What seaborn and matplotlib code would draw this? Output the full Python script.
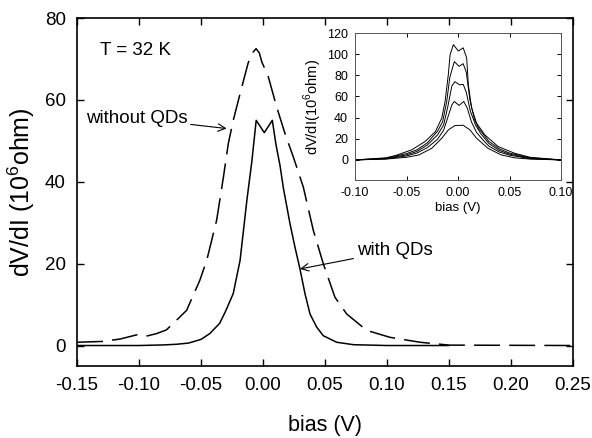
import numpy as np
import pandas as pd
import matplotlib
matplotlib.use("Agg")
import matplotlib.pyplot as plt
import seaborn as sns

# main panel: dV/dI vs bias at T = 32 K
bias_without = [-0.15, -0.129, -0.115, -0.102, -0.094, -0.086, -0.078, -0.070, -0.0616,
                -0.051, -0.0454, -0.0374, -0.032, -0.028, -0.024, -0.0185, -0.012, -0.0085,
                -0.0056, -0.003, -0.001, 0.0043, 0.011, 0.0177, 0.0245, 0.0325, 0.0406,
                0.0486, 0.058, 0.0675, 0.0836, 0.1024, 0.1266, 0.15, 0.25]
dvdi_without = [0.8, 1.0, 1.6, 2.6, 2.3, 2.9, 3.8, 6.1, 8.6,
                15.9, 20.8, 30.6, 41.0, 49.3, 55.0, 61.5, 69.0, 71.5,
                72.5, 71.5, 69.3, 65.6, 58.3, 51.8, 46.0, 38.7, 28.1,
                20.0, 11.8, 7.7, 3.7, 2.0, 0.8, 0.1, 0.0]

bias_with = [-0.15, -0.10, -0.08, -0.07, -0.06, -0.05, -0.043, -0.035, -0.03, -0.024,
             -0.0185, -0.013, -0.009, -0.0055, 0.001, 0.0075, 0.0105, 0.0137, 0.0164,
             0.0218, 0.0258, 0.0298, 0.0339, 0.0379, 0.0433, 0.0486, 0.0594, 0.073,
             0.10, 0.15]
dvdi_with = [0.0, 0.0, 0.15, 0.3, 0.6, 1.5, 2.9, 5.4, 8.5, 12.7,
             20.8, 35.5, 45.0, 55.0, 52.0, 55.0, 49.0, 44.0, 38.5,
             29.7, 24.0, 18.7, 12.6, 7.7, 4.5, 2.4, 0.8, 0.2,
             0.0, 0.0]

# inset: five curves
inset_a_x = [-0.10, -0.07, -0.061, -0.045, -0.032, -0.022, -0.0158, -0.0126, -0.0094,
             -0.0077, -0.0045, 0.0003, 0.005, 0.0084, 0.010, 0.0132, 0.018, 0.026, 0.039,
             0.055, 0.07, 0.10]
inset_a_y = [0.0, 2.0, 4.1, 9.5, 17.4, 26.8, 39.5, 55.0, 81.0,
             99.5, 109.0, 103.0, 106.0, 96.4, 71.0, 49.0, 34.8, 23.7, 12.6,
             6.3, 2.5, 0.0]

inset_b_x = [-0.10, -0.07, -0.05, -0.04, -0.03, -0.02, -0.015, -0.011, -0.008, -0.0036,
             0.001, 0.005, 0.008, 0.0115, 0.016, 0.02, 0.03, 0.04, 0.05, 0.07, 0.10]
inset_b_y = [0.0, 1.6, 6.0, 9.5, 16.0, 27.0, 36.0, 55.0, 78.0, 93.0,
             88.5, 91.0, 83.0, 57.0, 38.0, 30.0, 17.5, 10.5, 6.5, 2.0, 0.0]

inset_c_x = [-0.10, -0.07, -0.05, -0.04, -0.03, -0.02, -0.014, -0.01, -0.006, -0.003,
             0.0015, 0.005, 0.008, 0.012, 0.017, 0.022, 0.03, 0.04, 0.05, 0.07, 0.10]
inset_c_y = [0.0, 1.3, 4.8, 8.0, 14.0, 23.5, 33.0, 50.0, 70.0, 74.0,
             71.0, 71.5, 64.0, 46.0, 33.0, 25.0, 15.5, 9.0, 5.5, 1.6, 0.0]

inset_d_x = [-0.10, -0.07, -0.05, -0.04, -0.03, -0.02, -0.014, -0.01, -0.006, -0.0036,
             0.001, 0.0055, 0.009, 0.013, 0.018, 0.025, 0.03, 0.04, 0.05, 0.07, 0.10]
inset_d_y = [0.0, 1.0, 3.8, 6.5, 11.5, 19.5, 28.0, 40.0, 52.0, 55.3,
             51.5, 55.3, 49.0, 36.0, 26.0, 18.0, 13.0, 7.5, 4.5, 1.2, 0.0]

inset_e_x = [-0.10, -0.07, -0.05, -0.038, -0.0255, -0.0158, -0.0094, -0.003, 0.005,
             0.0116, 0.018, 0.029, 0.042, 0.055, 0.07, 0.10]
inset_e_y = [0.0, 0.8, 2.5, 4.7, 11.0, 20.5, 28.4, 32.5, 32.8,
             28.4, 20.5, 11.0, 4.7, 2.0, 0.8, 0.0]

main_xticks = [-0.15, -0.10, -0.05, 0.00, 0.05, 0.10, 0.15, 0.20, 0.25]
main_yticks = [0, 20, 40, 60, 80]
inset_xticks = [-0.10, -0.05, 0.00, 0.05, 0.10]
inset_yticks = [0, 20, 40, 60, 80, 100, 120]

sns.set_style("ticks")
plt.rcParams['font.family'] = ['Liberation Sans', 'DejaVu Sans']
plt.rcParams['mathtext.fontset'] = 'custom'
plt.rcParams['mathtext.rm'] = 'Liberation Sans'
plt.rcParams['text.color'] = 'black'
plt.rcParams['axes.labelcolor'] = 'black'

fig = plt.figure(figsize=(5.92, 4.38), dpi=100)
ax = fig.add_axes([0.1301, 0.1644, 0.8378, 0.7945])

df_without = pd.DataFrame({'bias': bias_without, 'dvdi': dvdi_without})
df_with = pd.DataFrame({'bias': bias_with, 'dvdi': dvdi_with})

sns.lineplot(data=df_without, x='bias', y='dvdi', ax=ax, color='black', lw=1.1, sort=False)
ax.lines[-1].set_dashes((17, 6))
sns.lineplot(data=df_with, x='bias', y='dvdi', ax=ax, color='black', lw=1.1, sort=False)

ax.set_xlim(-0.15, 0.25)
ax.set_ylim(-5, 80)
ax.set_xticks(main_xticks)
ax.set_xticklabels([f'{t:.2f}' for t in main_xticks])
ax.set_yticks(main_yticks)
ax.tick_params(direction='in', top=True, right=True, length=5, width=1,
               labelsize=13.5, pad=8, colors='black')
for s in ax.spines.values():
    s.set_linewidth(1.2)
    s.set_color('black')
ax.set_xlabel('bias (V)', fontsize=15.5, labelpad=15)
ax.set_ylabel(r'dV/dI (10$^{6}$ohm)', fontsize=18, labelpad=6)

ax.text(-0.1315, 72, 'T = 32 K', fontsize=13.5, va='center', ha='left')
ax.annotate('without QDs', xy=(-0.0293, 53), xytext=(-0.061, 55.5),
            fontsize=13.5, ha='right', va='center',
            arrowprops=dict(arrowstyle='->', color='black', lw=0.8, shrinkA=0, shrinkB=0))
ax.annotate('with QDs', xy=(0.0298, 18.7), xytext=(0.0756, 23.2),
            fontsize=13.5, ha='left', va='center',
            arrowprops=dict(arrowstyle='->', color='black', lw=0.8, shrinkA=0, shrinkB=0))

# inset
axi = fig.add_axes([0.5997, 0.589, 0.348, 0.3356])
axi.set_facecolor('white')
for xs, ys in [(inset_a_x, inset_a_y), (inset_b_x, inset_b_y), (inset_c_x, inset_c_y),
               (inset_d_x, inset_d_y), (inset_e_x, inset_e_y)]:
    sns.lineplot(x=xs, y=ys, ax=axi, color='black', lw=0.7, sort=False)
axi.set_xlim(-0.10, 0.10)
axi.set_ylim(-19, 120)
axi.set_xticks(inset_xticks)
axi.set_xticklabels([f'{t:.2f}' for t in inset_xticks])
axi.set_yticks(inset_yticks)
axi.tick_params(direction='in', top=True, right=True, length=3, width=0.7,
                labelsize=9, pad=5, colors='black')
for s in axi.spines.values():
    s.set_linewidth(0.7)
    s.set_color('#555555')
axi.set_xlabel('bias (V)', fontsize=9.5, labelpad=2)
axi.set_ylabel(r'dV/dI(10$^{6}$ohm)', fontsize=10.5, labelpad=2)

fig.savefig('out.png', dpi=100)
